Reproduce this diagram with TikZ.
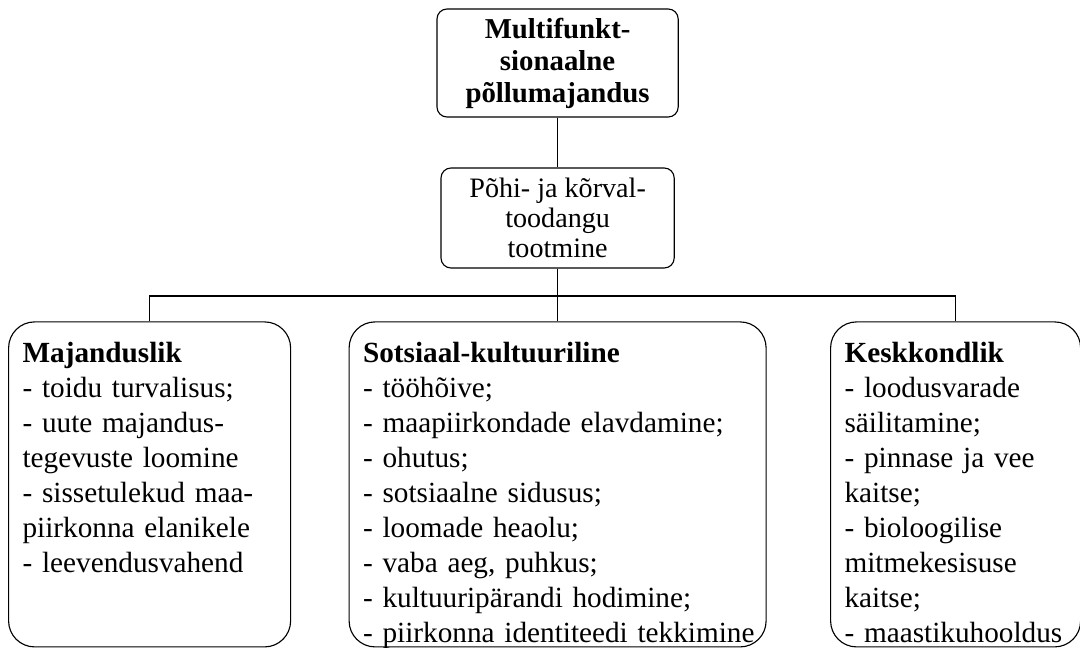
\documentclass[tikz,border=0pt]{standalone}
\usepackage{fontspec}
\setmainfont{Liberation Serif}
\usepackage{tikz}
\usetikzlibrary{shapes, positioning}
\tikzstyle{heading} = [rectangle, rounded corners=0.25cm, minimum width=6.03cm, minimum height=2.7cm, align=center, draw=black, font=\bfseries\fontsize{20.5}{22.8}\selectfont]
\tikzstyle{output} = [rectangle, rounded corners=0.25cm, minimum width=5.83cm, minimum height=2.5cm, align=center, draw=black, font=\fontsize{20}{21.5}\selectfont]
\tikzstyle{pillar} = [rectangle, rounded corners=0.65cm, inner xsep=0.35cm, inner ysep=0.1cm, text height=0.925cm, text depth=7cm, align=left, draw=black, font=\fontsize{20.8}{24.9}\selectfont]

\begin{document}
\begin{tikzpicture}[node distance=3.875cm, line width=0.8pt]
\useasboundingbox (0,0) rectangle (27,-16.2);
\node (mf) [heading] at (13.94,-1.575) {Multifunkt-\\sionaalne\\põllumajandus};
\node (prod) [output, below of=mf] {Põhi- ja kõrval-\\toodangu\\tootmine};
\coordinate [node distance=1.95cm, below of=prod] (bus);
\node (soc) [pillar, text width=9.725cm, below of=prod, yshift=-2.785cm] {\textbf{Sotsiaal-kultuuriline}\\- tööhõive;\\- maapiirkondade elavdamine;\\- ohutus;\\- sotsiaalne sidusus;\\- loomade heaolu;\\- vaba aeg, puhkus;\\- kultuuripärandi hodimine;\\\mbox{- piirkonna identiteedi tekkimine}};
\node (econ) [pillar, text width=6.35cm, node distance=10.2cm, left of=soc] {\textbf{Majanduslik}\\- toidu turvalisus;\\- uute majandus-\\tegevuste loomine\\- sissetulekud maa-\\piirkonna elanikele\\- leevendusvahend};
\node (env) [pillar, text width=5.55cm, node distance=9.95cm, right of=soc] {\textbf{Keskkondlik}\\- loodusvarade\\säilitamine;\\- pinnase ja vee\\kaitse;\\- bioloogilise\\mitmekesisuse\\kaitse;\\- maastikuhooldus};
\draw (mf) -- (prod);
\draw (prod) -- (bus);
\draw (econ.north) |- (bus) -| (env.north);
\draw (soc) -- (bus);
\end{tikzpicture}
\end{document}
